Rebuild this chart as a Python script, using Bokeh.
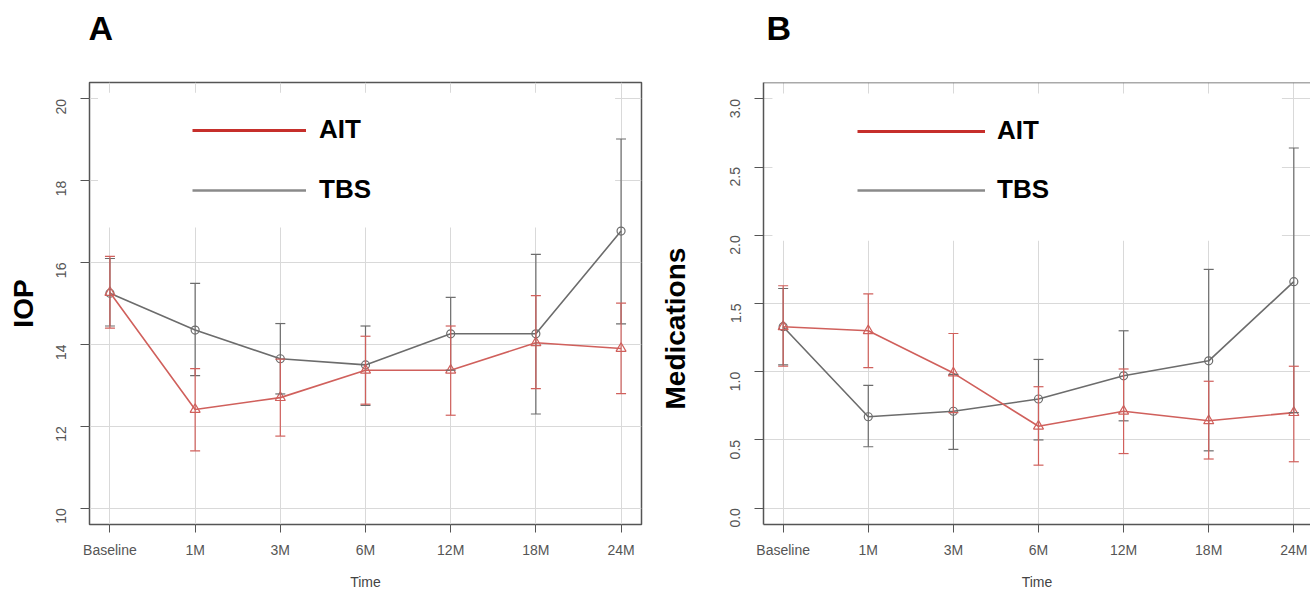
import math
from bokeh.plotting import figure
from bokeh.models import (ColumnDataSource, FixedTicker, Range1d, Whisker, TeeHead,
                          Legend, LegendItem, Span, Title)
from bokeh.layouts import row
from bokeh.embed import file_html
from bokeh.resources import INLINE

# ---------------- data ----------------
times = ["Baseline", "1M", "3M", "6M", "12M", "18M", "24M"]

iop_ait = [15.27, 12.41, 12.70, 13.37, 13.37, 14.04, 13.90]
iop_ait_lo = [14.40, 11.40, 11.76, 12.54, 12.27, 12.92, 12.80]
iop_ait_hi = [16.15, 13.41, 13.64, 14.20, 14.45, 15.19, 15.01]
iop_tbs = [15.25, 14.35, 13.65, 13.50, 14.26, 14.26, 16.77]
iop_tbs_lo = [14.45, 13.24, 12.79, 12.51, 13.37, 12.30, 14.50]
iop_tbs_hi = [16.10, 15.49, 14.51, 14.45, 15.15, 16.20, 19.02]

med_ait = [1.33, 1.30, 0.99, 0.60, 0.71, 0.64, 0.70]
med_ait_lo = [1.04, 1.03, 0.70, 0.315, 0.40, 0.36, 0.34]
med_ait_hi = [1.63, 1.57, 1.28, 0.89, 1.02, 0.93, 1.04]
med_tbs = [1.33, 0.67, 0.71, 0.80, 0.97, 1.08, 1.66]
med_tbs_lo = [1.05, 0.45, 0.43, 0.50, 0.64, 0.42, 0.70]
med_tbs_hi = [1.61, 0.90, 0.98, 1.09, 1.30, 1.75, 2.64]

iop_ticks = [10, 12, 14, 16, 18, 20]
iop_tick_labels = ["10", "12", "14", "16", "18", "20"]
med_ticks = [0.0, 0.5, 1.0, 1.5, 2.0, 2.5, 3.0]
med_tick_labels = ["0.0", "0.5", "1.0", "1.5", "2.0", "2.5", "3.0"]

series_names = ["AIT", "TBS"]

# ---------------- style ----------------
FONT = "Liberation Sans"
RED = "#d0605c"
RED_LEG = "#c62f2b"
GRAY = "#6c6c6c"
GRAY_LEG = "#8a8a8a"
GRID = "#d9d9d9"
FRAME = "#555555"
TICKTXT = "#555555"
NAN = float("nan")


def panel(letter, ylabel, yticks, ylabels, xr, yr, ait, ait_lo, ait_hi, tbs, tbs_lo, tbs_hi,
          width, b_left, b_right, box, leg_loc, leg_gw, leg_standoff, leg_spacing,
          ylab, full_outline, title_offset, ytick_standoff):
    xs = list(range(1, len(times) + 1))
    p = figure(width=width, height=592, x_range=Range1d(*xr), y_range=Range1d(*yr),
               output_backend="svg", toolbar_location=None,
               min_border_left=b_left, min_border_right=b_right,
               min_border_top=82, min_border_bottom=68)
    p.title = None
    p.background_fill_color = "white"
    p.border_fill_color = "white"

    # spacer + panel letter stacked above the frame
    p.add_layout(Title(text=" ", text_font_size="1px", standoff=33), "above")
    p.add_layout(Title(text=letter, text_font=FONT, text_font_size="34px",
                       text_font_style="bold", text_color="black", align="left",
                       offset=title_offset, standoff=0, vertical_align="bottom"), "above")

    # frame
    if full_outline:
        p.outline_line_color = FRAME
        p.outline_line_width = 1.5
    else:
        p.outline_line_color = None
        p.add_layout(Span(location=yr[1], dimension="width", line_color=FRAME, line_width=1.5))

    # x axis
    p.xaxis.ticker = FixedTicker(ticks=xs)
    p.xaxis.major_label_overrides = {x: t for x, t in zip(xs, times)}
    p.xaxis.minor_tick_line_color = None
    p.xaxis.major_tick_in = 0
    p.xaxis.major_tick_out = 8
    p.xaxis.major_tick_line_color = FRAME
    p.xaxis.axis_line_color = FRAME if not full_outline else None
    p.xaxis.axis_line_width = 1.5
    p.xaxis.major_label_text_font = FONT
    p.xaxis.major_label_text_font_size = "14px"
    p.xaxis.major_label_text_color = TICKTXT
    p.xaxis.major_label_standoff = 9
    p.xaxis.axis_label = "Time"
    p.xaxis.axis_label_text_font = FONT
    p.xaxis.axis_label_text_font_size = "14px"
    p.xaxis.axis_label_text_font_style = "normal"
    p.xaxis.axis_label_text_color = "#444444"
    p.xaxis.axis_label_standoff = 13

    # y axis
    p.yaxis.ticker = FixedTicker(ticks=yticks)
    p.yaxis.major_label_overrides = {v: s for v, s in zip(yticks, ylabels)}
    p.yaxis.minor_tick_line_color = None
    p.yaxis.major_tick_in = 0
    p.yaxis.major_tick_out = 9
    p.yaxis.major_tick_line_color = FRAME
    p.yaxis.axis_line_color = FRAME if not full_outline else None
    p.yaxis.axis_line_width = 1.5
    p.yaxis.major_label_orientation = math.pi / 2
    p.yaxis.major_label_text_font = FONT
    p.yaxis.major_label_text_font_size = "14px"
    p.yaxis.major_label_text_color = TICKTXT
    p.yaxis.major_label_standoff = ytick_standoff
    if ylab[0] == "axis":
        p.yaxis.axis_label = ylabel
        p.yaxis.axis_label_text_font = FONT
        p.yaxis.axis_label_text_font_size = "28px"
        p.yaxis.axis_label_text_font_style = "bold"
        p.yaxis.axis_label_text_color = "black"
        p.yaxis.axis_label_standoff = ylab[1]
    else:
        # spacer then side title, stacked outward from the y axis
        p.add_layout(Title(text=" ", text_font_size="1px", standoff=ylab[1]), "left")
        p.add_layout(Title(text=ylabel, text_font=FONT, text_font_size="28px",
                           text_font_style="bold", text_color="black", align="left",
                           offset=ylab[2], standoff=0, vertical_align="bottom"), "left")

    # grid
    p.xgrid.ticker = FixedTicker(ticks=xs)
    p.ygrid.ticker = FixedTicker(ticks=yticks)
    p.xgrid.grid_line_color = GRID
    p.ygrid.grid_line_color = GRID
    p.xgrid.grid_line_width = 1
    p.ygrid.grid_line_width = 1

    # white legend background box hiding the grid
    p.quad(left=[box[0]], right=[box[1]], bottom=[box[2]], top=[box[3]],
           fill_color="white", line_color=None)

    # series
    for vals, lo, hi, color, marker, msize in (
        (tbs, tbs_lo, tbs_hi, GRAY, "circle", 8),
        (ait, ait_lo, ait_hi, RED, "triangle", 10),
    ):
        src = ColumnDataSource(dict(x=xs, y=vals, lo=lo, hi=hi))
        w = Whisker(source=src, base="x", lower="lo", upper="hi",
                    line_color=color, line_width=1.2, level="glyph",
                    upper_head=TeeHead(size=10, line_color=color, line_width=1.2),
                    lower_head=TeeHead(size=10, line_color=color, line_width=1.2))
        p.add_layout(w)
        p.line("x", "y", source=src, line_color=color, line_width=1.6)
        p.scatter("x", "y", source=src, marker=marker, size=msize, fill_alpha=0,
                  line_color=color, line_width=1.2)

    # legend (renderers without visible points carry the legend styling)
    r_ait = p.line([1, 1], [NAN, NAN], line_color=RED_LEG, line_width=3)
    r_tbs = p.line([1, 1], [NAN, NAN], line_color=GRAY_LEG, line_width=2.5)
    leg = Legend(items=[LegendItem(label=series_names[0], renderers=[r_ait]),
                        LegendItem(label=series_names[1], renderers=[r_tbs])],
                 location=leg_loc, glyph_width=leg_gw, glyph_height=30,
                 label_text_font=FONT, label_text_font_size="26px",
                 label_text_font_style="bold", label_text_color="black",
                 label_standoff=leg_standoff, spacing=leg_spacing, padding=0, margin=0,
                 background_fill_alpha=0, border_line_color=None)
    p.add_layout(leg)
    return p


pA = panel("A", "IOP", iop_ticks, iop_tick_labels, (0.76, 7.24), (9.6, 20.4),
           iop_ait, iop_ait_lo, iop_ait_hi, iop_tbs, iop_tbs_lo, iop_tbs_hi,
           width=656, b_left=89, b_right=15,
           box=(0.86, 6.93, 16.86, 20.15), leg_loc=(103, 319), leg_gw=114,
           leg_standoff=13, leg_spacing=29, ylab=("axis", 10), full_outline=True,
           title_offset=-1, ytick_standoff=19)

pB = panel("B", "Medications", med_ticks, med_tick_labels, (0.769, 7.196), (-0.12, 3.12),
           med_ait, med_ait_lo, med_ait_hi, med_tbs, med_tbs_lo, med_tbs_hi,
           width=654, b_left=107, b_right=0,
           box=(0.874, 6.86, 1.96, 3.04), leg_loc=(94, 319), leg_gw=128,
           leg_standoff=12, leg_spacing=28, ylab=("title", 29, 115), full_outline=False,
           title_offset=3, ytick_standoff=19)

layout = row(pA, pB)
open("out.html", "w").write(file_html(layout, INLINE))
